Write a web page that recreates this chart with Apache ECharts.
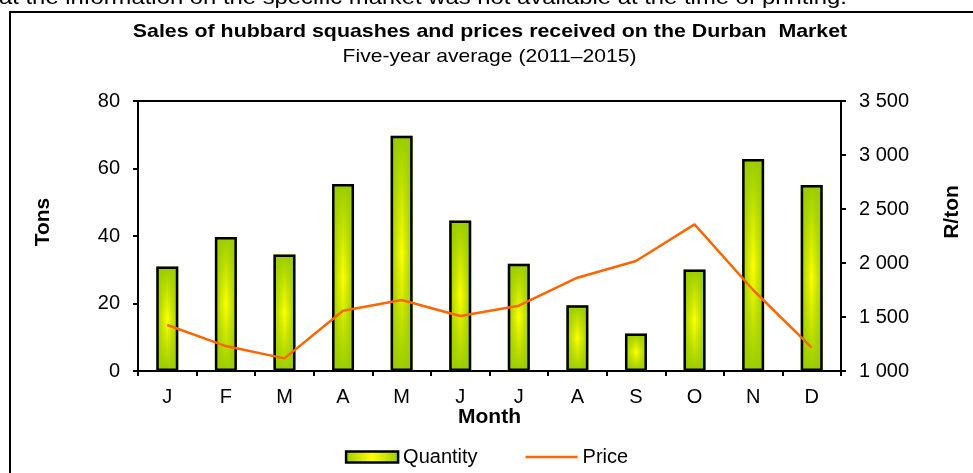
<!DOCTYPE html>
<html>
<head>
<meta charset="utf-8">
<script src="https://cdn.jsdelivr.net/npm/echarts@6/dist/echarts.min.js"></script>
<style>
  html, body { margin: 0; padding: 0; background: #fff; }
  #chart { width: 973px; height: 473px; }
</style>
</head>
<body>
<div id="chart"></div>
<script>
// Five-year average (2011-2015)
const months = ['J', 'F', 'M', 'A', 'M', 'J', 'J', 'A', 'S', 'O', 'N', 'D'];
const quantity = [31.0, 39.7, 34.5, 55.4, 69.7, 44.6, 31.8, 19.5, 11.1, 30.1, 62.8, 55.1];
const price = [1426, 1231, 1117, 1558, 1657, 1509, 1605, 1864, 2019, 2358, 1750, 1216];

const font = 'Liberation Sans, Arial, sans-serif';
const green = '#99cc00';
const yellow = '#ffff00';
const orange = '#ff6600';

// space as thousands separator, e.g. 3 500
function spaced(v) {
  return String(v).replace(/\B(?=(\d{3})+(?!\d))/g, ' ');
}

const sideGradient = new echarts.graphic.LinearGradient(0, 0, 1, 0, [
  { offset: 0, color: green },
  { offset: 0.5, color: yellow },
  { offset: 1, color: green }
]);
// fades the ends of each bar back to green, so the yellow sits in the middle
const endShade = new echarts.graphic.LinearGradient(0, 0, 0, 1, [
  { offset: 0, color: 'rgba(153,204,0,1)' },
  { offset: 0.5, color: 'rgba(153,204,0,0)' },
  { offset: 1, color: 'rgba(153,204,0,1)' }
]);

// the source picture is a bit stretched sideways, so the free texts are too
function label(text, x, y, size, weight, scaleX, rotation) {
  return {
    type: 'text',
    x: x,
    y: y,
    scaleX: scaleX,
    rotation: rotation || 0,
    silent: true,
    style: {
      text: text,
      font: weight + ' ' + size + 'px ' + font,
      fill: '#000',
      align: 'center',
      verticalAlign: 'middle'
    }
  };
}

const chart = echarts.init(document.getElementById('chart'), null, { renderer: 'canvas' });

chart.setOption({
  animation: false,
  graphic: [
    {
      type: 'rect',
      shape: { x: 10, y: 12, width: 1000, height: 500 },
      style: { fill: 'none', stroke: '#000', lineWidth: 2 },
      silent: true
    },
    {
      type: 'text',
      x: -1,
      y: -1.5,
      scaleX: 1.135,
      silent: true,
      style: {
        text: 'at the information on the specific market was not available at the time of printing.',
        font: '21px ' + font,
        fill: '#000',
        align: 'left',
        verticalAlign: 'middle'
      }
    },
    label('Sales of hubbard squashes and prices received on the Durban  Market', 490, 31.7, 19, 'bold', 1.124),
    label('Five-year average (2011\u20132015)', 489.5, 56.5, 19, 'normal', 1.11),
    label('Tons', 43, 222, 21, 'bold', 1, Math.PI / 2),
    label('R/ton', 952, 212, 21, 'bold', 1, Math.PI / 2)
  ],
  legend: {
    bottom: 1,
    left: 'center',
    itemWidth: 52,
    itemHeight: 11,
    itemGap: 48,
    symbolKeepAspect: true,
    textStyle: { fontFamily: font, fontSize: 20, color: '#000' },
    data: [
      { name: 'Quantity', icon: 'rect', itemStyle: { borderColor: '#000', borderWidth: 2.5 } },
      // plain line swatch, no marker in the middle
      { name: 'Price', icon: 'path://M0,0 L52,0 L52,2.5 L0,2.5 Z', itemStyle: { color: orange, borderWidth: 0 } }
    ]
  },
  grid: {
    left: 138,
    right: 132,
    top: 101,
    bottom: 102,
    show: true,
    borderColor: '#000',
    borderWidth: 2
  },
  xAxis: {
    type: 'category',
    data: months,
    name: 'Month',
    nameLocation: 'middle',
    nameGap: 36,
    nameMoveOverlap: false,
    nameTextStyle: { fontFamily: font, fontSize: 21, fontWeight: 'bold', color: '#000' },
    axisLine: { lineStyle: { color: '#000', width: 2 } },
    axisTick: { show: true, length: 5, lineStyle: { color: '#000', width: 2 } },
    axisLabel: { fontFamily: font, fontSize: 20, color: '#000', margin: 16 },
    splitLine: { show: false }
  },
  yAxis: [
    {
      type: 'value',
      min: 0,
      max: 80,
      interval: 20,
      axisLine: { show: true, lineStyle: { color: '#000', width: 2 } },
      axisTick: { show: true, length: 5, lineStyle: { color: '#000', width: 2 } },
      axisLabel: { fontFamily: font, fontSize: 20, color: '#000', margin: 18 },
      splitLine: { show: false }
    },
    {
      type: 'value',
      position: 'right',
      min: 1000,
      max: 3500,
      interval: 500,
      axisLine: { show: true, lineStyle: { color: '#000', width: 2 } },
      axisTick: { show: true, length: 5, lineStyle: { color: '#000', width: 2 } },
      axisLabel: { fontFamily: font, fontSize: 20, color: '#000', margin: 18, formatter: spaced },
      splitLine: { show: false }
    }
  ],
  series: [
    {
      name: 'Quantity',
      type: 'bar',
      yAxisIndex: 0,
      barWidth: 22,
      barGap: '-100%',
      data: quantity,
      itemStyle: { color: sideGradient }
    },
    {
      name: 'QuantityShade',
      type: 'bar',
      yAxisIndex: 0,
      barWidth: 22,
      barGap: '-100%',
      data: quantity,
      silent: true,
      itemStyle: { color: endShade, borderColor: '#000', borderWidth: 2.5 }
    },
    {
      name: 'Price',
      type: 'line',
      yAxisIndex: 1,
      data: price,
      symbol: 'none',
      showSymbol: false,
      lineStyle: { color: orange, width: 2.5 },
      itemStyle: { color: orange }
    }
  ]
});
</script>
</body>
</html>
